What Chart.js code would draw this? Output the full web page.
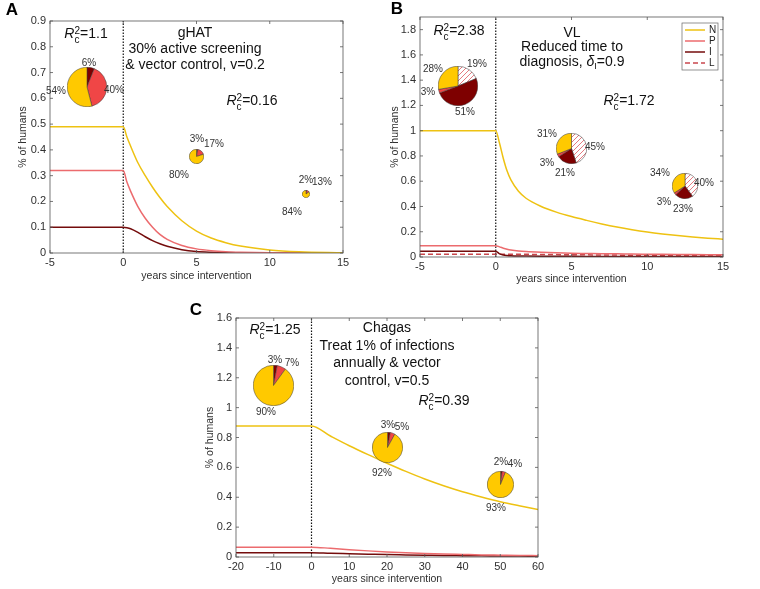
<!DOCTYPE html>
<html>
<head>
<meta charset="utf-8">
<script src="https://cdn.jsdelivr.net/npm/chart.js@4.4.1/dist/chart.umd.min.js"></script>
<style>
body { margin: 0; background: #fff; }
#fig { position: relative; width: 760px; height: 589px; overflow: hidden; font-family: 'Liberation Sans', Arial, sans-serif; }
#fig canvas { position: absolute; }
.t { position: absolute; transform: translate(-50%, -50%); white-space: nowrap; color: #111; font-size: 14px; }
.pct { position: absolute; transform: translate(-50%, -50%); white-space: nowrap; color: #333; font-size: 10px; }
.letter { position: absolute; transform: translate(-50%, -50%); font-weight: bold; font-size: 17px; color: #000; }
.ss { display: inline-block; vertical-align: -0.5em; font-size: 10px; line-height: 9px; text-align: left; }
</style>
</head>
<body>
<div id="fig">
  <canvas id="chartA"></canvas>
  <canvas id="chartB"></canvas>
  <canvas id="chartC"></canvas>
</div>
<script>
// ---- Panel A: gHAT ----
const yearsA = [-5, 0, 0.25, 0.5, 1, 1.5, 2, 2.5, 3, 4, 5, 6, 7, 8, 10, 12, 15];
const nA = [0.49, 0.49, 0.45, 0.415, 0.35, 0.30, 0.255, 0.215, 0.18, 0.125, 0.085, 0.058, 0.04, 0.027, 0.012, 0.005, 0.001];
const pA = [0.32, 0.32, 0.275, 0.24, 0.18, 0.135, 0.10, 0.072, 0.053, 0.029, 0.016, 0.009, 0.005, 0.003, 0.001, 0.0005, 0];
const iA = [0.1, 0.1, 0.098, 0.094, 0.08, 0.063, 0.048, 0.036, 0.026, 0.013, 0.006, 0.003, 0.0015, 0.001, 0.0003, 0, 0];
const pieXA = [-2.5, 5, 12.5];
const pieYA = [0.645, 0.375, 0.228];
const pieNA = [54, 80, 84];
const piePA = [40, 17, 13];
const pieIA = [6, 3, 2];

// ---- Panel B: VL ----
const yearsB = [-5, 0, 0.25, 0.5, 0.75, 1, 1.5, 2, 3, 4, 5, 6, 7, 8, 9, 10, 11, 12, 13, 14, 15];
const nB = [1.0, 1.0, 0.90, 0.78, 0.68, 0.61, 0.52, 0.465, 0.40, 0.355, 0.32, 0.29, 0.262, 0.237, 0.216, 0.198, 0.183, 0.17, 0.159, 0.149, 0.141];
const pB = [0.09, 0.09, 0.08, 0.07, 0.062, 0.056, 0.048, 0.043, 0.037, 0.033, 0.03, 0.028, 0.026, 0.025, 0.023, 0.022, 0.021, 0.02, 0.019, 0.018, 0.017];
const iB = [0.045, 0.045, 0.025, 0.016, 0.012, 0.01, 0.008, 0.007, 0.006, 0.0055, 0.005, 0.0048, 0.0046, 0.0044, 0.0042, 0.004, 0.0038, 0.0036, 0.0034, 0.0032, 0.003];
const lB = [0.022, 0.022, 0.022, 0.022, 0.022, 0.022, 0.021, 0.021, 0.02, 0.019, 0.018, 0.017, 0.016, 0.015, 0.014, 0.013, 0.012, 0.011, 0.01, 0.0095, 0.009];
const pieXB = [-2.5, 5, 12.5];
const pieYB = [1.35, 0.857, 0.566];
const pieNB = [28, 31, 34];
const piePB = [3, 3, 3];
const pieIB = [51, 21, 23];
const pieLB = [19, 45, 40];

// ---- Panel C: Chagas ----
const yearsC = [-20, 0, 5, 10, 15, 20, 25, 30, 35, 40, 45, 50, 55, 60];
const nC = [0.877, 0.877, 0.81, 0.745, 0.685, 0.628, 0.573, 0.522, 0.477, 0.437, 0.402, 0.37, 0.343, 0.318];
const pC = [0.066, 0.066, 0.058, 0.049, 0.041, 0.034, 0.029, 0.024, 0.02, 0.017, 0.014, 0.012, 0.01, 0.009];
const iC = [0.029, 0.029, 0.025, 0.022, 0.019, 0.016, 0.014, 0.012, 0.010, 0.009, 0.008, 0.007, 0.006, 0.005];
const pieXC = [-10, 20, 50];
const pieYC = [1.15, 0.73, 0.486];
const pieNC = [90, 92, 93];
const piePC = [7, 5, 4];
const pieIC = [3, 3, 2];

// colours
const lineN = '#EEC212', lineP = '#EC6B6E', lineI = '#740C0C', lineL = '#C9474D';
const sliceN = '#FFC900', sliceP = '#F04646', sliceI = '#7E0000';

Chart.defaults.font.family = "'Liberation Sans', Arial, sans-serif";
Chart.defaults.color = '#303030';

const fig = document.getElementById('fig');

// box around plot area with inward ticks, like matlab
const boxPlugin = {
    id: 'mbox',
    afterDraw(chart) {
        const { ctx, chartArea: a, scales } = chart;
        ctx.save();
        ctx.strokeStyle = '#555';
        ctx.lineWidth = 0.8;
        ctx.strokeRect(a.left, a.top, a.right - a.left, a.bottom - a.top);
        ctx.beginPath();
        scales.x.ticks.forEach(t => {
            const x = scales.x.getPixelForValue(t.value);
            ctx.moveTo(x, a.bottom); ctx.lineTo(x, a.bottom - 3);
            ctx.moveTo(x, a.top); ctx.lineTo(x, a.top + 3);
        });
        scales.y.ticks.forEach(t => {
            const y = scales.y.getPixelForValue(t.value);
            ctx.moveTo(a.left, y); ctx.lineTo(a.left + 3, y);
            ctx.moveTo(a.right, y); ctx.lineTo(a.right - 3, y);
        });
        ctx.stroke();
        ctx.restore();
    }
};

// legend box drawn from the datasets (panel B only)
const legendPlugin = {
    id: 'mlegend',
    afterDraw(chart, args, opts) {
        if (!opts || !opts.show) return;
        const ctx = chart.ctx;
        ctx.save();
        ctx.fillStyle = '#fff';
        ctx.fillRect(opts.x, opts.y, opts.w, opts.h);
        ctx.strokeStyle = '#666';
        ctx.lineWidth = 0.7;
        ctx.strokeRect(opts.x, opts.y, opts.w, opts.h);
        let row = 0;
        chart.data.datasets.forEach(ds => {
            if (!ds.label) return;
            const y = opts.y + 7 + row * 11;
            ctx.strokeStyle = ds.borderColor;
            ctx.lineWidth = 1.5;
            ctx.setLineDash(ds.borderDash || []);
            ctx.beginPath();
            ctx.moveTo(opts.x + 3, y); ctx.lineTo(opts.x + 23, y);
            ctx.stroke();
            ctx.setLineDash([]);
            ctx.fillStyle = '#222';
            ctx.font = "10px 'Liberation Sans', Arial, sans-serif";
            ctx.textBaseline = 'middle';
            ctx.fillText(ds.label, opts.x + 27, y);
            row++;
        });
        ctx.restore();
    }
};

function pts(xs, ys) {
    return xs.map((x, i) => ({ x: x, y: ys[i] }));
}

function curve(label, xs, ys, color, dash) {
    return {
        label: label, data: pts(xs, ys), borderColor: color, borderWidth: 1.5,
        borderDash: dash || [], pointRadius: 0, cubicInterpolationMode: 'monotone', fill: false
    };
}

// keep only ticks on the step (drops the 1.9 end tick)
function onStep(step) {
    return s => {
        s.ticks = s.ticks.filter(t => Math.abs(t.value / step - Math.round(t.value / step)) < 1e-6);
    };
}

function makeLine(id, box, area, datasets, xr, yr, titles, legend) {
    const cv = document.getElementById(id);
    cv.width = box.w; cv.height = box.h;
    cv.style.left = box.left + 'px';
    cv.style.top = box.top + 'px';
    // dotted line at the intervention
    datasets.push({
        label: '', data: [{ x: 0, y: 0 }, { x: 0, y: yr[1] }], borderColor: '#111',
        borderWidth: 1.2, borderDash: [1.5, 1.5], pointRadius: 0
    });
    return new Chart(cv, {
        type: 'line',
        data: { datasets: datasets },
        options: {
            responsive: false,
            animation: false,
            events: [],
            layout: { padding: { top: area.top, right: box.w - area.right, left: 0, bottom: 0 } },
            plugins: { legend: { display: false }, tooltip: { enabled: false }, mlegend: legend || {} },
            scales: {
                x: {
                    type: 'linear', min: xr[0], max: xr[1],
                    grid: { display: false, drawTicks: false }, border: { display: false },
                    ticks: { stepSize: xr[2], autoSkip: false, maxRotation: 0, padding: 3, font: { size: 11 }, callback: v => String(v) },
                    title: { display: true, text: 'years since intervention', font: { size: 10.5 }, padding: { top: 0, bottom: titles[0] } },
                    afterBuildTicks: onStep(xr[2]),
                    afterFit: s => { s.height = box.h - area.bottom; s.paddingLeft = 0; s.paddingRight = 0; }
                },
                y: {
                    min: 0, max: yr[1],
                    grid: { display: false, drawTicks: false }, border: { display: false },
                    ticks: { stepSize: yr[2], autoSkip: false, padding: 4, font: { size: 11 }, callback: v => String(+v.toFixed(2)) },
                    title: { display: true, text: '% of humans', font: { size: 10.5 }, padding: { top: titles[1], bottom: 0 } },
                    afterBuildTicks: onStep(yr[2]),
                    afterFit: s => { s.width = area.left; s.paddingTop = 0; s.paddingBottom = 0; }
                }
            }
        },
        plugins: [boxPlugin, legendPlugin]
    });
}

// red diagonal hatching on white for the L slices
function hatchFor(ctx) {
    const p = document.createElement('canvas');
    p.width = 5; p.height = 5;
    const g = p.getContext('2d');
    g.fillStyle = '#fff';
    g.fillRect(0, 0, 5, 5);
    g.strokeStyle = '#E0585E';
    g.lineWidth = 0.8;
    g.beginPath();
    g.moveTo(0, 5); g.lineTo(5, 0);
    g.moveTo(-1, 1); g.lineTo(1, -1);
    g.moveTo(4, 6); g.lineTo(6, 4);
    g.stroke();
    return ctx.createPattern(p, 'repeat');
}

// small pie charts placed on the line chart's own scales
function addPies(chart, box, xs, ys, parts, colors, radii) {
    xs.forEach((xv, k) => {
        const cx = box.left + chart.scales.x.getPixelForValue(xv);
        const cy = box.top + chart.scales.y.getPixelForValue(ys[k]);
        const s = Math.ceil(2 * radii[k] + 1);
        const c = document.createElement('canvas');
        c.width = s; c.height = s;
        c.style.left = (cx - s / 2) + 'px';
        c.style.top = (cy - s / 2) + 'px';
        fig.appendChild(c);
        const bg = colors.map(col => col === 'hatch' ? hatchFor(c.getContext('2d')) : col);
        new Chart(c, {
            type: 'pie',
            data: { datasets: [{ data: parts.map(p => p[k]), backgroundColor: bg, borderColor: '#3a3a3a', borderWidth: 0.5, hoverOffset: 0, offset: 0 }] },
            options: { responsive: false, animation: false, events: [], plugins: { legend: { display: false }, tooltip: { enabled: false } } }
        });
    });
}

// ---- build panels ----
const boxA = { left: 0, top: 0, w: 380, h: 290 };
const chartA = makeLine('chartA', boxA, { left: 50, top: 21, right: 343, bottom: 253 },
    [curve('N', yearsA, nA, lineN), curve('P', yearsA, pA, lineP), curve('I', yearsA, iA, lineI)],
    [-5, 15, 5], [0, 0.9, 0.1], [7.7, 16.7]);
addPies(chartA, boxA, pieXA, pieYA, [pieIA, piePA, pieNA], [sliceI, sliceP, sliceN], [19.5, 7, 3.5]);

const boxB = { left: 380, top: 0, w: 380, h: 290 };
const chartB = makeLine('chartB', boxB, { left: 40, top: 17, right: 343, bottom: 257 },
    [curve('N', yearsB, nB, lineN), curve('P', yearsB, pB, lineP), curve('I', yearsB, iB, lineI), curve('L', yearsB, lB, lineL, [5, 3])],
    [-5, 15, 5], [0, 1.9, 0.2], [4.7, 8.7],
    { show: true, x: 302, y: 23, w: 36, h: 47 });
addPies(chartB, boxB, pieXB, pieYB, [pieLB, pieIB, piePB, pieNB], ['hatch', sliceI, sliceP, sliceN], [19.5, 15, 12.5]);

const boxC = { left: 160, top: 290, w: 460, h: 299 };
const chartC = makeLine('chartC', boxC, { left: 76, top: 28, right: 378, bottom: 267 },
    [curve('N', yearsC, nC, lineN), curve('P', yearsC, pC, lineP), curve('I', yearsC, iC, lineI)],
    [-20, 60, 10], [0, 1.6, 0.2], [3.7, 43.7]);
addPies(chartC, boxC, pieXC, pieYC, [pieIC, piePC, pieNC], [sliceI, sliceP, sliceN], [20, 15, 13]);

// ---- text annotations ----
const rc = v => '<i>R</i><span class="ss">2<br>c</span>=' + v;
const texts = [
    ['letter', 'A', 12, 10], ['letter', 'B', 397, 9], ['letter', 'C', 196, 310],
    ['t', rc('1.1'), 86, 34], ['t', 'gHAT', 195, 32], ['t', '30% active screening', 195, 48],
    ['t', '&amp; vector control, v=0.2', 195, 64], ['t', rc('0.16'), 252, 101],
    ['t', rc('2.38'), 459, 31], ['t', 'VL', 572, 32], ['t', 'Reduced time to', 572, 46],
    ['t', 'diagnosis, <i>δ</i><sub style="font-size:9px">I</sub>=0.9', 572, 62], ['t', rc('1.72'), 629, 101],
    ['t', rc('1.25'), 275, 330], ['t', 'Chagas', 387, 327], ['t', 'Treat 1% of infections', 387, 345],
    ['t', 'annually &amp; vector', 387, 362], ['t', 'control, v=0.5', 387, 380], ['t', rc('0.39'), 444, 401],
    ['pct', '6%', 89, 62], ['pct', '40%', 114, 89], ['pct', '54%', 56, 90],
    ['pct', '3%', 197, 138], ['pct', '17%', 214, 143], ['pct', '80%', 179, 174],
    ['pct', '2%', 306, 179], ['pct', '13%', 322, 181], ['pct', '84%', 292, 211],
    ['pct', '28%', 433, 68], ['pct', '19%', 477, 63], ['pct', '3%', 428, 91], ['pct', '51%', 465, 111],
    ['pct', '31%', 547, 133], ['pct', '45%', 595, 146], ['pct', '3%', 547, 162], ['pct', '21%', 565, 172],
    ['pct', '34%', 660, 172], ['pct', '40%', 704, 182], ['pct', '3%', 664, 201], ['pct', '23%', 683, 208],
    ['pct', '3%', 275, 359], ['pct', '7%', 292, 362], ['pct', '90%', 266, 411],
    ['pct', '3%', 388, 424], ['pct', '5%', 402, 426], ['pct', '92%', 382, 472],
    ['pct', '2%', 501, 461], ['pct', '4%', 515, 463], ['pct', '93%', 496, 507]
];
texts.forEach(([cls, html, x, y]) => {
    const d = document.createElement('div');
    d.className = cls;
    d.innerHTML = html;
    d.style.left = x + 'px';
    d.style.top = y + 'px';
    fig.appendChild(d);
});
</script>
</body>
</html>
